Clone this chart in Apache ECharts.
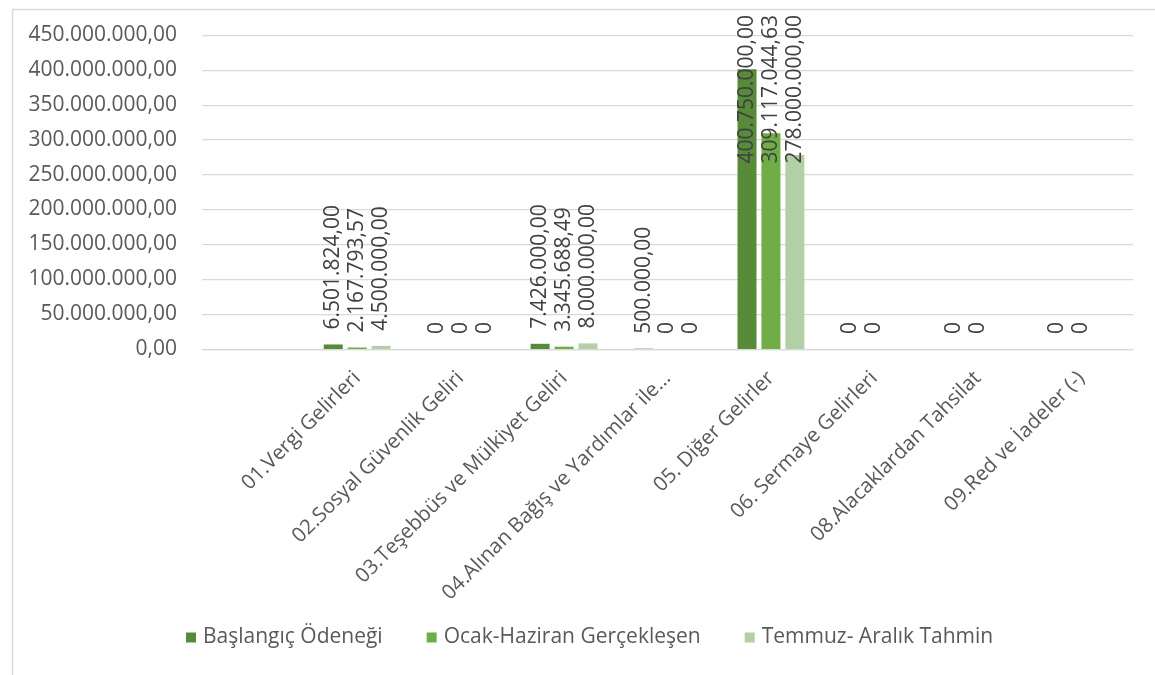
<!DOCTYPE html>
<html>
<head>
<meta charset="utf-8">
<script src="https://cdn.jsdelivr.net/npm/echarts@6/dist/echarts.min.js"></script>
<style>
  html, body { margin: 0; padding: 0; background: #fff; }
  #chart { width: 1155px; height: 675px; }
</style>
</head>
<body>
<div id="chart"></div>
<script>
// Revenue categories (first slot is an empty leading category)
const categories = [
  '',
  '01.Vergi Gelirleri',
  '02.Sosyal Güvenlik Geliri',
  '03.Teşebbüs ve Mülkiyet Geliri',
  '04.Alınan Bağış ve Yardımlar ile...',
  '05. Diğer Gelirler',
  '06. Sermaye Gelirleri',
  '08.Alacaklardan Tahsilat',
  '09.Red ve İadeler (-)'
];

const seriesNames = ['Başlangıç Ödeneği', 'Ocak-Haziran Gerçekleşen', 'Temmuz- Aralık Tahmin'];

const baslangicOdenegi = [null, 6501824.00, 0, 7426000.00, 500000.00, 400750000.00, 0, 0, 0];
const ocakHaziran      = [null, 2167793.57, 0, 3345688.49, 0, 309117044.63, 0, 0, 0];
const temmuzAralik     = [null, 4500000.00, 0, 8000000.00, 0, 278000000.00, null, null, null];

const yMax = 450000000;
const yStep = 50000000;

const colors = ['#578B3A', '#70AD47', '#B3CFA5'];

// Turkish number format: 1.234.567,89
function trNumber(v) {
  const parts = Math.abs(v).toFixed(2).split('.');
  const intPart = parts[0].replace(/\B(?=(\d{3})+(?!\d))/g, '.');
  return (v < 0 ? '-' : '') + intPart + ',' + parts[1];
}
function dataLabel(v) {
  return v === 0 ? '0' : trNumber(v);
}

const numFont = '"Open Sans", sans-serif';
const LABEL_TOP = 15;

const chart = echarts.init(document.getElementById('chart'), null, { renderer: 'canvas' });

function makeSeries(name, data, color) {
  return {
    name: name,
    type: 'bar',
    data: data,
    barWidth: 19,
    barGap: '26%',
    itemStyle: { color: color },
    label: {
      show: true,
      position: 'top',
      rotate: 90,
      align: 'left',
      verticalAlign: 'middle',
      distance: 15,
      color: '#404040',
      fontFamily: numFont,
      fontSize: 21,
      formatter: p => dataLabel(p.value)
    }
  };
}

chart.setOption({
  animation: false,
  textStyle: { fontFamily: numFont },
  graphic: [{
    type: 'rect',
    left: 10, top: 7,
    shape: { width: 1200, height: 700 },
    style: { fill: 'none', stroke: '#D9D9D9', lineWidth: 1.5 },
    silent: true
  }],
  color: colors,
  legend: {
    data: seriesNames,
    left: 186,
    top: 627,
    padding: 0,
    icon: 'rect',
    itemWidth: 10,
    itemHeight: 10,
    itemGap: 44,
    textStyle: { color: '#595959', fontSize: 21, fontFamily: numFont, padding: [0, 0, 0, 2] }
  },
  grid: { left: 202, right: 22, top: 35, bottom: 326 },
  xAxis: {
    type: 'category',
    data: categories,
    axisLine: { lineStyle: { color: '#D9D9D9', width: 1.25 } },
    axisTick: { show: false },
    axisLabel: {
      interval: 0,
      rotate: 45,
      margin: 26,
      color: '#595959',
      fontSize: 20.5,
      fontFamily: numFont
    }
  },
  yAxis: {
    type: 'value',
    min: 0,
    max: yMax,
    interval: yStep,
    axisLine: { show: false },
    axisTick: { show: false },
    splitLine: { lineStyle: { color: '#D9D9D9', width: 1.25 } },
    axisLabel: {
      margin: 25,
      color: '#595959',
      fontSize: 21,
      fontFamily: numFont,
      formatter: v => trNumber(v)
    }
  },
  // keep value labels inside the chart frame when a bar is too tall
  // (the labels are rotated 90°, so their local x axis points upward)
  labelLayout: function (params) {
    if (params.labelRect && params.labelRect.y < LABEL_TOP) {
      return { dx: params.labelRect.y - LABEL_TOP };
    }
    return {};
  },
  series: [
    makeSeries(seriesNames[0], baslangicOdenegi, colors[0]),
    makeSeries(seriesNames[1], ocakHaziran, colors[1]),
    makeSeries(seriesNames[2], temmuzAralik, colors[2])
  ]
});
</script>
</body>
</html>
